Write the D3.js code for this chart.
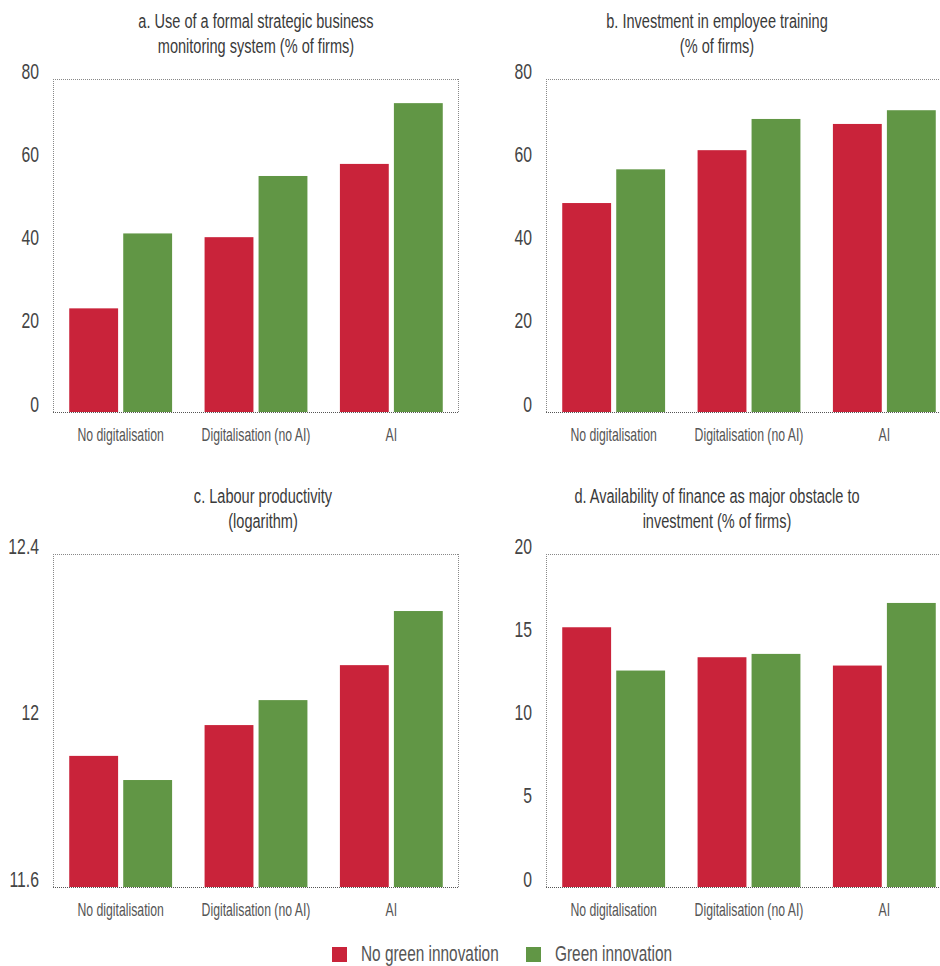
<!DOCTYPE html>
<html><head><meta charset="utf-8">
<script src="https://cdn.jsdelivr.net/npm/d3@7"></script>
<style>
body{margin:0;background:#fff;}
svg{display:block;}
text{font-family:"Liberation Sans Narrow","Liberation Sans",Arial,sans-serif;}
</style></head><body>
<svg id="chart" width="940" height="966"></svg>
<script>
const categories = ["No digitalisation", "Digitalisation (no AI)", "AI"];
const seriesNames = ["No green innovation", "Green innovation"];
const colors = ["#C9233A", "#619645"];

const panelTitles = [
  ["a. Use of a formal strategic business", "monitoring system (% of firms)"],
  ["b. Investment in employee training", "(% of firms)"],
  ["c. Labour productivity", "(logarithm)"],
  ["d. Availability of finance as major obstacle to", "investment (% of firms)"]
];
// values: [No green innovation, Green innovation] per category
const valuesA = [[24.9, 42.9], [42.0, 56.7], [59.6, 74.2]];
const valuesB = [[50.2, 58.3], [62.9, 70.4], [69.2, 72.5]];
const valuesC = [[11.915, 11.857], [11.989, 12.049], [12.133, 12.263]];
const valuesD = [[15.6, 13.0], [13.8, 14.0], [13.3, 17.06]];

const ticksA = [0, 20, 40, 60, 80];
const ticksB = [0, 20, 40, 60, 80];
const ticksC = [11.6, 12, 12.4];
const ticksD = [0, 5, 10, 15, 20];

const panels = [
  {title: panelTitles[0], values: valuesA, ticks: ticksA, domain: [0, 80], x: 53, y: 79, tx: 256},
  {title: panelTitles[1], values: valuesB, ticks: ticksB, domain: [0, 80], x: 546, y: 79, tx: 717},
  {title: panelTitles[2], values: valuesC, ticks: ticksC, domain: [11.6, 12.4], x: 53, y: 554, tx: 263},
  {title: panelTitles[3], values: valuesD, ticks: ticksD, domain: [0, 20], x: 546, y: 554, tx: 717}
];

const K = 0.7; // horizontal condensing of the text
function condense(sel) {
  sel.each(function() {
    const t = d3.select(this);
    const x = +t.attr("x") || 0;
    t.attr("x", x / K).attr("transform", `scale(${K},1)`);
    t.selectAll("tspan").each(function() {
      const s = d3.select(this);
      if (s.attr("x") !== null) s.attr("x", +s.attr("x") / K);
    });
  });
}

const svg = d3.select("#chart");
const W = 406, H = 333;

panels.forEach(p => {
  const g = svg.append("g").attr("transform", `translate(${p.x},${p.y})`);
  const x0 = d3.scaleBand().domain(categories).range([0, W]).paddingInner(0.24).paddingOuter(0.12);
  const x1 = d3.scaleBand().domain(seriesNames).range([0, x0.bandwidth()]).paddingInner(0.095);
  const y = d3.scaleLinear().domain(p.domain).range([H, 0]);

  // title
  const tg = svg.append("text").attr("x", p.tx).attr("y", p.y - 51)
    .attr("text-anchor", "middle").attr("fill", "#3a3a3a").attr("font-size", 20.8);
  p.title.forEach((t, i) => tg.append("tspan").attr("x", p.tx).attr("dy", i === 0 ? 0 : 25).text(t));
  condense(tg);

  // frame (dotted)
  g.append("line").attr("x1", 0).attr("x2", W).attr("y1", 0.5).attr("y2", 0.5)
    .attr("stroke", "#888").attr("stroke-dasharray", "1,1");
  g.append("line").attr("x1", 0.5).attr("x2", 0.5).attr("y1", 0).attr("y2", H)
    .attr("stroke", "#888").attr("stroke-dasharray", "1,1");
  g.append("line").attr("x1", W - 0.5).attr("x2", W - 0.5).attr("y1", 0).attr("y2", H)
    .attr("stroke", "#888").attr("stroke-dasharray", "1,1");

  // bars
  categories.forEach((c, ci) => {
    seriesNames.forEach((s, si) => {
      const v = p.values[ci][si];
      g.append("rect")
        .attr("x", x0(c) + x1(s))
        .attr("y", y(v))
        .attr("width", x1.bandwidth())
        .attr("height", y(p.domain[0]) - y(v))
        .attr("fill", colors[si]);
    });
  });

  g.append("line").attr("x1", 0).attr("x2", W).attr("y1", H + 0.5).attr("y2", H + 0.5)
    .attr("stroke", "#555").attr("stroke-dasharray", "1,1");

  // y axis labels
  const yAxis = d3.axisLeft(y).tickValues(p.ticks).tickSize(0).tickPadding(14).tickFormat(d => d);
  const ya = g.append("g").call(yAxis);
  ya.select(".domain").remove();
  ya.selectAll("text").attr("font-size", 22.5).attr("fill", "#444")
    .attr("font-family", null).attr("dy", "0").attr("y", -1);
  condense(ya.selectAll("text"));

  // x axis labels
  const xAxis = d3.axisBottom(x0).tickSize(0).tickPadding(0);
  const xa = g.append("g").attr("transform", `translate(0,${H})`).call(xAxis);
  xa.select(".domain").remove();
  xa.selectAll("text").attr("font-size", 17.5).attr("fill", "#555").attr("font-family", null)
    .attr("dy", "0").attr("y", 29);
  condense(xa.selectAll("text"));
});

// legend
const legendX = [332, 526];
seriesNames.forEach((s, i) => {
  svg.append("rect").attr("x", legendX[i]).attr("y", 947).attr("width", 15).attr("height", 15).attr("fill", colors[i]);
  const t = svg.append("text").attr("x", legendX[i] + 29).attr("y", 961).attr("font-size", 22).attr("fill", "#555").text(s);
  condense(t);
});
</script>
</body></html>
